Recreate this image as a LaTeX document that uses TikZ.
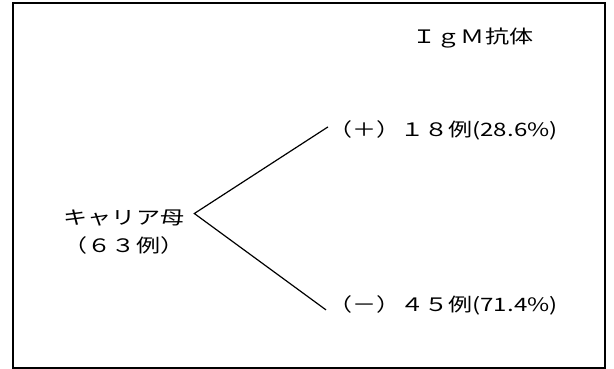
\documentclass[tikz,border=0pt]{standalone}
\usepackage{fontspec}
% Japanese text, set a little wide
\newfontfamily\jp[FakeStretch=1.3]{Noto Sans CJK JP}
\begin{document}
\begin{tikzpicture}[x=1pt,y=-1pt,
  lbl/.style={font=\jp\fontsize{18.5}{22}\selectfont, inner sep=0pt},
  link/.style={line width=1.2pt, line join=miter},
  frame/.style={line width=1.5pt}]
\useasboundingbox (0,0) rectangle (614,369);
\draw[frame] (13,3) rectangle (605,368);

\node[lbl, anchor=base] (title) at (473,44) {ＩｇＭ抗体};
\node[lbl, anchor=base] (mother) at (124,224) {キャリア母};
\node[lbl, anchor=base] (count) at (124,252) {（６３例）};
\node[lbl, anchor=base west] (pos) at (328,137) {（＋）１８例(28.6\%)};
\node[lbl, anchor=base west] (neg) at (328,311) {（－）４５例(71.4\%)};

% branching lines
\coordinate (v) at ([xshift=10pt,yshift=4pt]mother.east);
\coordinate (pe) at ([xshift=0pt,yshift=4pt]pos.west);
\coordinate (ne) at ([xshift=-2pt,yshift=-5pt]neg.west);
\draw[link] (pe) -- (v) -- (ne);
\end{tikzpicture}
\end{document}
